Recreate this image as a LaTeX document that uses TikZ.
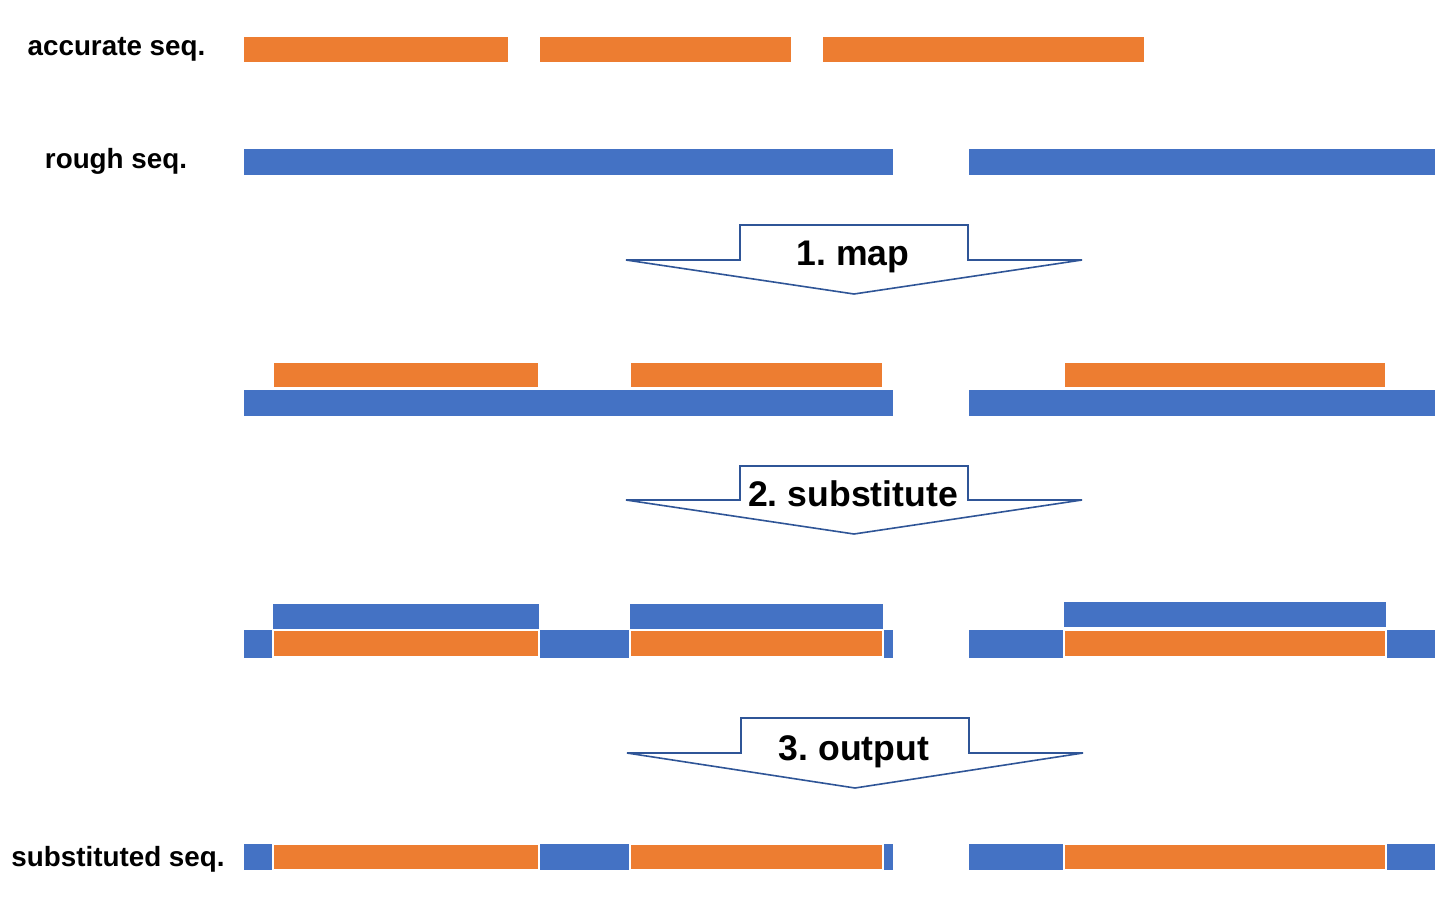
\documentclass[tikz,border=0pt]{standalone}
\usepackage{fontspec}
\setmainfont{Liberation Sans}
\frenchspacing
\definecolor{accorange}{HTML}{ED7D31}
\definecolor{roughblue}{HTML}{4472C4}
\definecolor{arrowblue}{HTML}{2F5597}
\tikzset{
  accbar/.style={fill=accorange},
  roughbar/.style={fill=roughblue},
  subbar/.style={fill=accorange, draw=white, line width=1pt},
  steparrow/.style={fill=white, draw=arrowblue, line width=0.8pt, line join=miter},
  seqlabel/.style={anchor=base, inner sep=0pt, font=\fontsize{13.9}{16}\selectfont\bfseries},
  steplabel/.style={anchor=base, inner sep=0pt, font=\fontsize{17.8}{20}\selectfont\bfseries}
}
\begin{document}
\begin{tikzpicture}[x=0.5pt, y=-0.5pt]
       \useasboundingbox (0,0) rectangle (1437,922);
       % labels
       \node[seqlabel] (acc) at (116.5,55) {accurate seq.};
       \node[seqlabel] (rough) at (116,168) {rough seq.};
       \node[seqlabel] (subst) at (118,866) {substituted seq.};
       % input reads
       \foreach \a/\b in {244/508, 540/791, 823/1144} \fill[accbar] (\a,37) rectangle (\b,62);
       \foreach \a/\b in {244/893, 969/1435} \fill[roughbar] (\a,149) rectangle (\b,175);
       % 1. map
       \draw[steparrow] (740,225) -- (968,225) -- (968,260) -- (1082,260) -- (854,294) -- (626,260) -- (740,260) -- cycle;
       \node[steplabel] (map) at (853,265) {1. map};
       \foreach \a/\b in {274/538, 631/882, 1065/1385} \fill[accbar] (\a,363) rectangle (\b,387);
       \foreach \a/\b in {244/893, 969/1435} \fill[roughbar] (\a,390) rectangle (\b,416);
       % 2. substitute
       \draw[steparrow] (740,466) -- (968,466) -- (968,500) -- (1082,500) -- (854,534) -- (626,500) -- (740,500) -- cycle;
       \node[steplabel] (sub) at (853,506) {2. substitute};
       \fill[roughbar] (273,604) rectangle (539,628.5);
       \fill[roughbar] (630,604) rectangle (883,628.5);
       \fill[roughbar] (1064,602) rectangle (1386,627);
       \foreach \a/\b in {244/893, 969/1435} \fill[roughbar] (\a,630) rectangle (\b,658);
       \foreach \a/\b in {273/539, 630/883, 1064/1386} \filldraw[subbar] (\a,630) rectangle (\b,657);
       % 3. output
       \draw[steparrow] (741,718) -- (969,718) -- (969,753) -- (1083,753) -- (855,788) -- (627,753) -- (741,753) -- cycle;
       \node[steplabel] (out) at (854,760) {3. output};
       \foreach \a/\b in {244/893, 969/1435} \fill[roughbar] (\a,844) rectangle (\b,870);
       \foreach \a/\b in {273/539, 630/883, 1064/1386} \filldraw[subbar] (\a,844) rectangle (\b,870);
\end{tikzpicture}
\end{document}
